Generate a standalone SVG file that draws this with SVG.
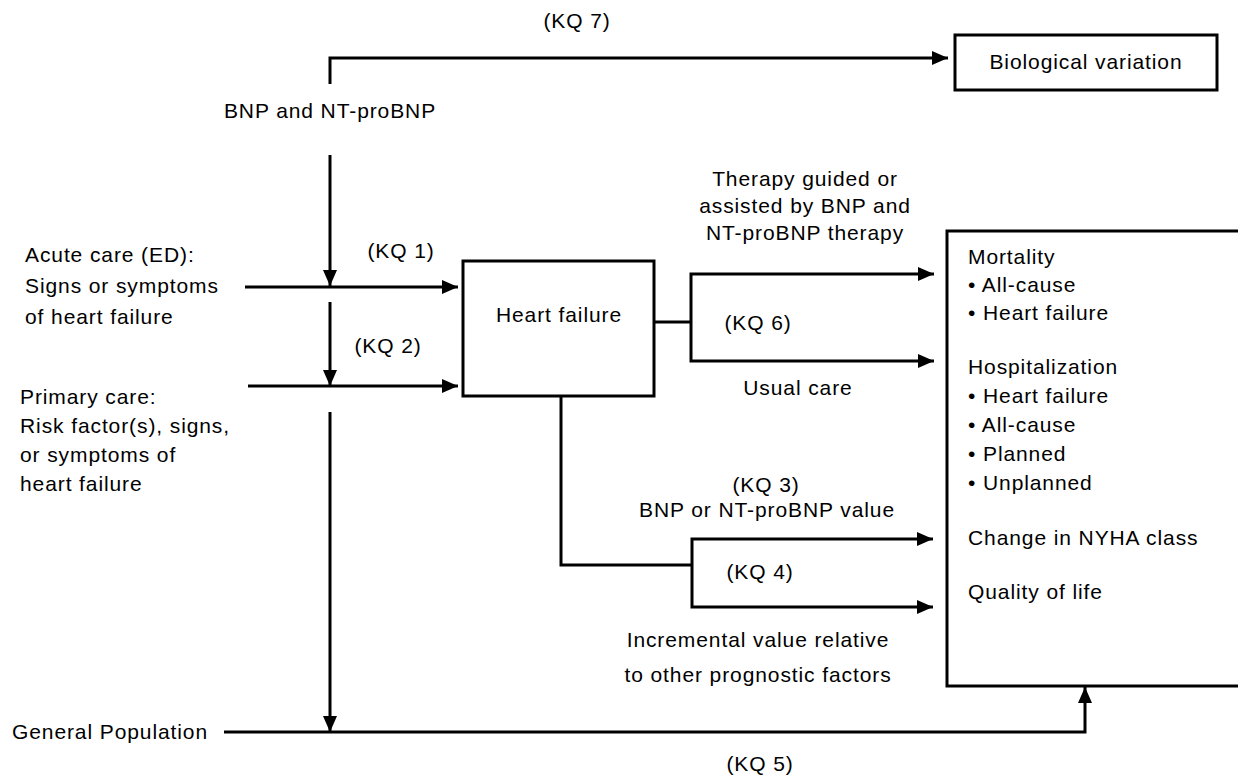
<svg xmlns="http://www.w3.org/2000/svg" width="1238" height="776" viewBox="0 0 1238 776">
<defs>
<marker id="ah" markerUnits="userSpaceOnUse" markerWidth="16" markerHeight="14" refX="16" refY="7" orient="auto">
<path d="M0,0 L16,7 L0,14 z" fill="#000"/>
</marker>
<style>
text{font-family:"Liberation Sans",Arial,sans-serif;font-size:21px;fill:#000;letter-spacing:0.9px}
.c{text-anchor:middle}
.box{fill:#fff;stroke:#000;stroke-width:3}
.ln{fill:none;stroke:#000;stroke-width:3}
.ar{marker-end:url(#ah)}
</style>
</defs>
<rect width="1238" height="776" fill="#fff"/>
<g id="connectors">
<path class="ln ar" d="M330,84 V58 H948"/>
<path class="ln ar" d="M330,155 V286"/>
<path class="ln ar" d="M245,287 H458"/>
<path class="ln ar" d="M330,302 V386"/>
<path class="ln ar" d="M248,386 H458"/>
<path class="ln ar" d="M330,412 V732"/>
<path class="ln ar" d="M224,732 H1085 V687"/>
<path class="ln" d="M654,322 H691"/>
<path class="ln ar" d="M691,322 V274 H934"/>
<path class="ln ar" d="M691,322 V361 H934"/>
<path class="ln" d="M561,396 V565 H692"/>
<path class="ln ar" d="M692,565 V539 H933"/>
<path class="ln ar" d="M692,565 V607 H933"/>
</g>
<g id="labels">
<text class="c" x="577" y="28">(KQ 7)</text>
<text class="c" x="330" y="118">BNP and NT-proBNP</text>
<text class="c" x="401" y="258">(KQ 1)</text>
<text class="c" x="388" y="353">(KQ 2)</text>
<text class="c" x="805" y="186">Therapy guided or</text>
<text class="c" x="805" y="213">assisted by BNP and</text>
<text class="c" x="805" y="240">NT-proBNP therapy</text>
<text class="c" x="758" y="330">(KQ 6)</text>
<text class="c" x="798" y="395">Usual care</text>
<text class="c" x="766" y="492">(KQ 3)</text>
<text class="c" x="767" y="517">BNP or NT-proBNP value</text>
<text class="c" x="760" y="579">(KQ 4)</text>
<text class="c" x="758" y="647">Incremental value relative</text>
<text class="c" x="758" y="682">to other prognostic factors</text>
<text class="c" x="760" y="771">(KQ 5)</text>
</g>
<g id="acute-care">
<text x="25" y="262">Acute care (ED):</text>
<text x="25" y="293">Signs or symptoms</text>
<text x="25" y="324">of heart failure</text>
</g>
<g id="primary-care">
<text x="20" y="404">Primary care:</text>
<text x="20" y="433">Risk factor(s), signs,</text>
<text x="20" y="462">or symptoms of</text>
<text x="20" y="491">heart failure</text>
</g>
<g id="general-population">
<text x="12" y="739">General Population</text>
</g>
<g id="biological-variation">
<rect class="box" x="955" y="35" width="262" height="55"/>
<text class="c" x="1086" y="69">Biological variation</text>
</g>
<g id="heart-failure">
<rect class="box" x="463" y="261" width="191" height="135"/>
<text class="c" x="559" y="322">Heart failure</text>
</g>
<g id="outcomes">
<rect class="box" x="947" y="231" width="300" height="455"/>
<text x="968" y="264">Mortality</text>
<text x="968" y="292">• All-cause</text>
<text x="968" y="320">• Heart failure</text>
<text x="968" y="374">Hospitalization</text>
<text x="968" y="403">• Heart failure</text>
<text x="968" y="432">• All-cause</text>
<text x="968" y="461">• Planned</text>
<text x="968" y="490">• Unplanned</text>
<text x="968" y="545">Change in NYHA class</text>
<text x="968" y="599">Quality of life</text>
</g>
</svg>
